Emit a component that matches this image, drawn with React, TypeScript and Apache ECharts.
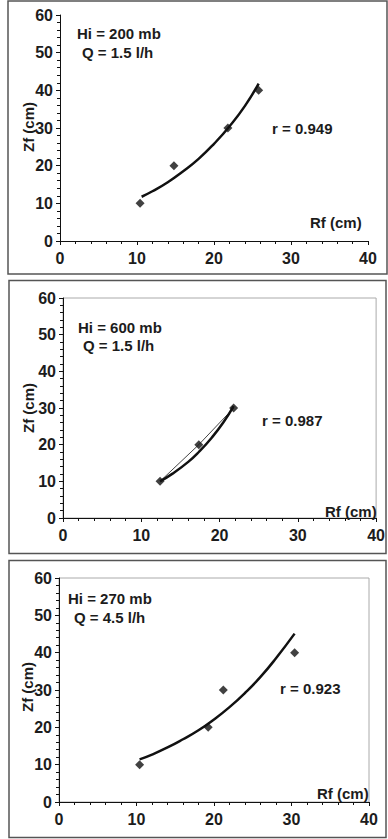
import React, { useEffect, useRef } from "react";
import * as echarts from "echarts";

// ---- Data ----
const xTicks = [0, 10, 20, 30, 40];
const yTicks = [0, 10, 20, 30, 40, 50, 60];

// Panel 1: Hi = 200 mb, Q = 1.5 l/h
const p1Rf = [10.4, 14.8, 21.8, 25.8];
const p1Zf = [10, 20, 30, 40];
const p1FitRf = [10.6, 12, 14, 16, 18, 20, 22, 24, 25.8];
const p1FitZf = [11.75, 13.2, 15.6, 18.5, 21.8, 25.8, 30.4, 35.8, 41.8];

// Panel 2: Hi = 600 mb, Q = 1.5 l/h
const p2Rf = [12.4, 17.35, 21.8];
const p2Zf = [10, 20, 30];
const p2FitRf = [12.4, 14, 16, 17.35, 19, 20.5, 21.8];
const p2FitZf = [10.0, 12.1, 15.3, 18.0, 21.9, 26.1, 30.5];

// Panel 3: Hi = 270 mb, Q = 4.5 l/h
const p3Rf = [10.4, 19.25, 21.2, 30.4];
const p3Zf = [10, 20, 30, 40];
const p3FitRf = [10.4, 12, 14, 16, 18, 20, 22, 24, 26, 28, 30.4];
const p3FitZf = [11.4, 12.7, 14.6, 16.8, 19.2, 22.1, 25.4, 29.2, 33.5, 38.5, 45.1];

const titles1 = ["Hi = 200 mb", "Q = 1.5 l/h"];
const titles2 = ["Hi = 600 mb", "Q = 1.5 l/h"];
const titles3 = ["Hi = 270 mb", "Q = 4.5 l/h"];
const rLabels = ["r = 0.949", "r = 0.987", "r = 0.923"];
const xName = "Rf (cm)";
const yName = "Zf (cm)";

const FONT = "Liberation Sans, Arial, sans-serif";
const TXT = "#1c1c1c";

function zip(a: number[], b: number[]) {
  return a.map((v, i) => [v, b[i]]);
}

function xAxisCfg(idx: number) {
  return {
    type: "value",
    gridIndex: idx,
    min: xTicks[0],
    max: xTicks[xTicks.length - 1],
    interval: 10,
    splitLine: { show: false },
    axisLine: { show: true, lineStyle: { color: "#111", width: 1 } },
    axisTick: { show: true, length: 4, lineStyle: { color: "#111" } },
    minorTick: { show: true, splitNumber: 5, length: 3, lineStyle: { color: "#111" } },
    axisLabel: {
      color: TXT,
      fontFamily: FONT,
      fontWeight: "bold",
      fontSize: 16,
      margin: 9,
    },
  };
}

function yAxisCfg(idx: number) {
  return {
    type: "value",
    gridIndex: idx,
    min: yTicks[0],
    max: yTicks[yTicks.length - 1],
    interval: 10,
    splitLine: { show: false },
    axisLine: { show: true, lineStyle: { color: "#111", width: 1 } },
    axisTick: { show: true, length: 4, lineStyle: { color: "#111" } },
    minorTick: { show: true, splitNumber: 5, length: 3, lineStyle: { color: "#111" } },
    axisLabel: {
      color: TXT,
      fontFamily: FONT,
      fontWeight: "bold",
      fontSize: 16,
      margin: 7,
    },
  };
}

function txt(text: string, x: number, y: number, extra: any = {}) {
  return {
    type: "text",
    x,
    y,
    z: 10,
    ...extra,
    style: {
      text,
      fill: TXT,
      fontFamily: FONT,
      fontWeight: "bold",
      fontSize: 15,
      align: "left",
      verticalAlign: "middle",
      ...(extra.style || {}),
    },
  };
}

function border(x: number, y: number, w: number, h: number) {
  return {
    type: "rect",
    z: -1,
    shape: { x, y, width: w, height: h },
    style: { fill: "none", stroke: "#555555", lineWidth: 1.5 },
  };
}

function pointSeries(idx: number, rf: number[], zf: number[]) {
  return {
    type: "scatter",
    xAxisIndex: idx,
    yAxisIndex: idx,
    symbol: "diamond",
    symbolSize: 9,
    itemStyle: { color: "#111" },
    data: zip(rf, zf),
    z: 5,
  };
}

function fitSeries(idx: number, rf: number[], zf: number[]) {
  return {
    type: "line",
    xAxisIndex: idx,
    yAxisIndex: idx,
    smooth: true,
    showSymbol: false,
    lineStyle: { color: "#111", width: 2.5 },
    data: zip(rf, zf),
    z: 4,
  };
}

export default function App() {
  const ref = useRef<HTMLDivElement>(null);

  useEffect(() => {
    if (!ref.current) return;
    const chart = echarts.init(ref.current, null, { renderer: "svg" });
    const option: any = {
      animation: false,
      backgroundColor: "#ffffff",
      grid: [
        { left: 60, top: 15, width: 308, height: 226, show: false },
        { left: 63, top: 298, width: 317, height: 220, show: true, borderColor: "#aaaaaa", borderWidth: 1 },
        { left: 59, top: 578, width: 310, height: 224, show: true, borderColor: "#aaaaaa", borderWidth: 1 },
      ],
      xAxis: [xAxisCfg(0), xAxisCfg(1), xAxisCfg(2)],
      yAxis: [yAxisCfg(0), yAxisCfg(1), yAxisCfg(2)],
      series: [
        fitSeries(0, p1FitRf, p1FitZf),
        pointSeries(0, p1Rf, p1Zf),
        {
          type: "line",
          xAxisIndex: 1,
          yAxisIndex: 1,
          showSymbol: false,
          lineStyle: { color: "#444", width: 1 },
          data: zip(p2Rf, p2Zf),
          z: 4,
        },
        fitSeries(1, p2FitRf, p2FitZf),
        pointSeries(1, p2Rf, p2Zf),
        fitSeries(2, p3FitRf, p3FitZf),
        pointSeries(2, p3Rf, p3Zf),
      ],
      graphic: [
        border(8, 1, 379, 273),
        border(9, 280.5, 377, 273),
        border(9, 560.5, 377, 277),
        // panel 1
        txt(titles1[0], 77, 33),
        txt(titles1[1], 82, 52),
        txt(rLabels[0], 272, 128),
        txt(xName, 310, 222),
        txt(yName, 28, 127, { rotation: Math.PI / 2, style: { align: "center" } }),
        // panel 2
        txt(titles2[0], 78, 327),
        txt(titles2[1], 83, 345),
        txt(rLabels[1], 262, 420),
        txt(xName, 325, 511),
        txt(yName, 28, 408, { rotation: Math.PI / 2, style: { align: "center" } }),
        // panel 3
        txt(titles3[0], 68, 598),
        txt(titles3[1], 74, 617),
        txt(rLabels[2], 280, 688),
        txt(xName, 317, 793),
        txt(yName, 27, 687, { rotation: Math.PI / 2, style: { align: "center" } }),
      ],
    };
    chart.setOption(option);
    return () => chart.dispose();
  }, []);

  return (
    <div
      ref={ref}
      style={{ position: "absolute", left: 0, top: 0, width: 388, height: 839 }}
    />
  );
}
